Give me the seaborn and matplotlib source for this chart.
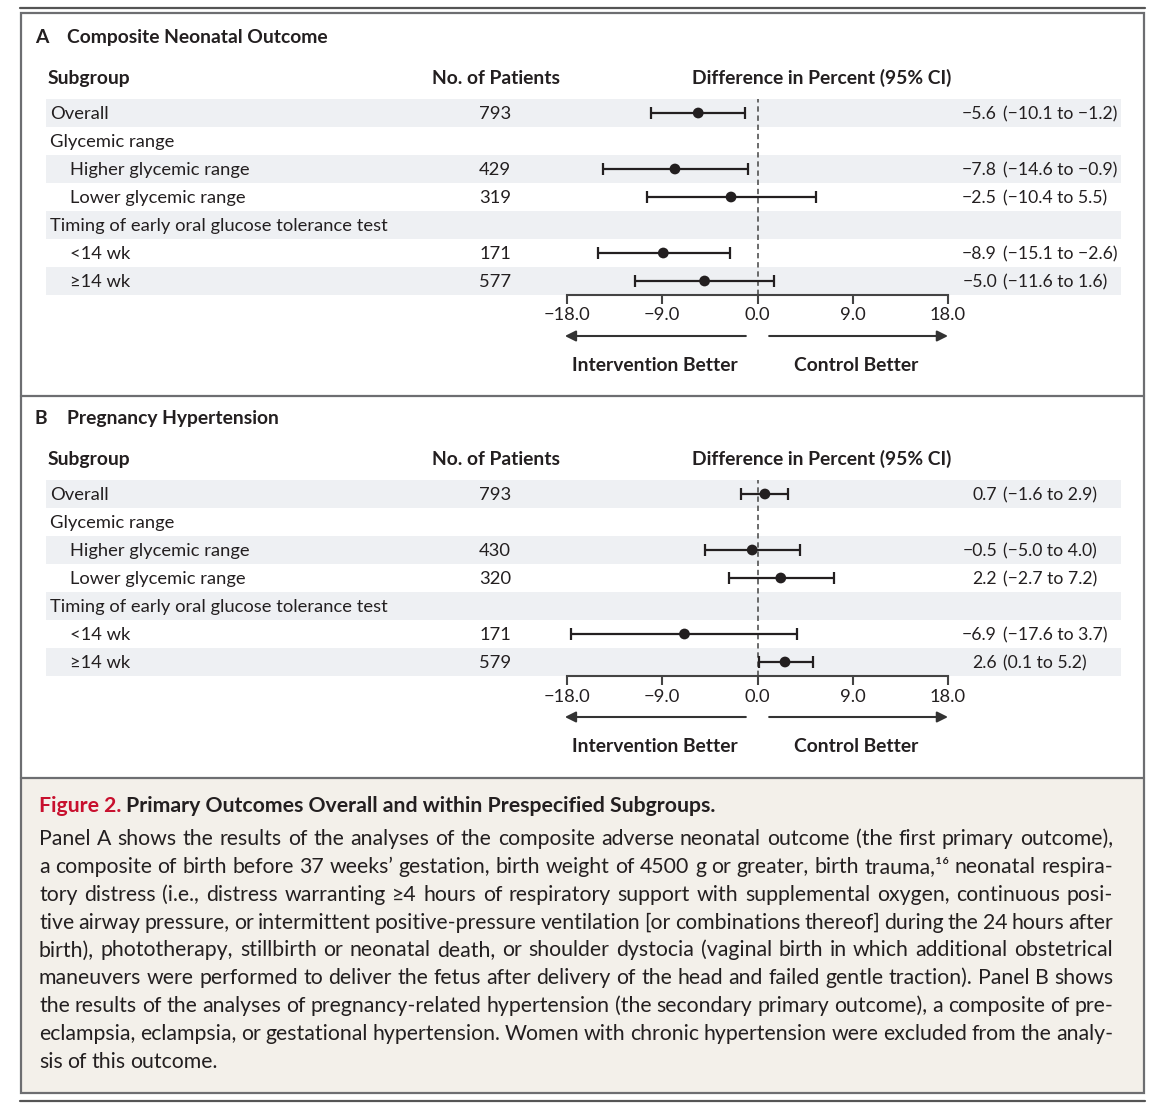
import numpy as np
import matplotlib
matplotlib.use("Agg")
import matplotlib.pyplot as plt
from matplotlib.patches import Rectangle
import seaborn as sns

# ---- data ----
subgroups = ["Overall", "Glycemic range", "Higher glycemic range", "Lower glycemic range",
             "Timing of early oral glucose tolerance test", "<14 wk", "\u226514 wk"]
indent = [0, 0, 1, 1, 0, 1, 1]

n_a = [793, None, 429, 319, None, 171, 577]
est_a = [-5.6, np.nan, -7.8, -2.5, np.nan, -8.9, -5.0]
lo_a = [-10.1, np.nan, -14.6, -10.4, np.nan, -15.1, -11.6]
hi_a = [-1.2, np.nan, -0.9, 5.5, np.nan, -2.6, 1.6]

n_b = [793, None, 430, 320, None, 171, 579]
est_b = [0.7, np.nan, -0.5, 2.2, np.nan, -6.9, 2.6]
lo_b = [-1.6, np.nan, -5.0, -2.7, np.nan, -17.6, 0.1]
hi_b = [2.9, np.nan, 4.0, 7.2, np.nan, 3.7, 5.2]

xticks = [-18.0, -9.0, 0.0, 9.0, 18.0]

caption_title = "Primary Outcomes Overall and within Prespecified Subgroups."
caption_lines = [
    "Panel A shows the results of the analyses of the composite adverse neonatal outcome (the first primary outcome),",
    "a composite of birth before 37 weeks\u2019 gestation, birth weight of 4500 g or greater, birth trauma,\u00b9\u2076 neonatal respira-",
    "tory distress (i.e., distress warranting \u22654 hours of respiratory support with supplemental oxygen, continuous posi-",
    "tive airway pressure, or intermittent positive-pressure ventilation [or combinations thereof] during the 24 hours after",
    "birth), phototherapy, stillbirth or neonatal death, or shoulder dystocia (vaginal birth in which additional obstetrical",
    "maneuvers were performed to deliver the fetus after delivery of the head and failed gentle traction). Panel B shows",
    "the results of the analyses of pregnancy-related hypertension (the secondary primary outcome), a composite of pre-",
    "eclampsia, eclampsia, or gestational hypertension. Women with chronic hypertension were excluded from the analy-",
    "sis of this outcome.",
]

# ---- style ----
sns.set_theme(style="white")
plt.rcParams["font.family"] = ["Lato", "DejaVu Sans"]
INK = "#231f20"
GREY = "#6d6e71"
STRIPE = "#eef0f3"

W, H = 1166, 1107
fig = plt.figure(figsize=(W / 100, H / 100), dpi=100)
bg = fig.add_axes([0, 0, 1, 1])
bg.set_xlim(0, W)
bg.set_ylim(H, 0)
bg.axis("off")

# frame, rules, caption box
bg.add_patch(Rectangle((22, 779), 1121, 313, facecolor="#f3f0ea", edgecolor="none"))
bg.add_patch(Rectangle((21, 13), 1123, 1080, facecolor="none", edgecolor=GREY, lw=1.6))
bg.plot([21, 1144], [396, 396], color=GREY, lw=1.6)
bg.plot([21, 1144], [778, 778], color=GREY, lw=1.6)
bg.plot([20, 1145], [8, 8], color="#555555", lw=1.6)
bg.plot([20, 1145], [1101, 1101], color="#555555", lw=1.6)

fs = 13.2
fs_num = 12.7
fs_head = 13.9
BL = 6  # baseline offset from row centre, px


def fmt(v):
    return f"{v:.1f}".replace("-", "\u2212")


def txt(x, y, s, size=fs, bold=False, **kw):
    return bg.text(x, y + BL, s, fontsize=size, fontweight="bold" if bold else "normal",
                   color=kw.pop("color", INK), va="baseline", **kw)


def panel(off, letter, title, n, est, lo, hi):
    txt(35, 37 + off, letter, fs_head, True)
    txt(67, 37 + off, title, fs_head, True)
    hy = 78 + off
    txt(48, hy, "Subgroup", fs_head, True)
    txt(432, hy, "No. of Patients", fs_head, True)
    txt(692, hy, "Difference in Percent (95% CI)", fs_head, True)

    for i, name in enumerate(subgroups):
        y = 113 + off + 28 * i
        if i % 2 == 0:
            bg.add_patch(Rectangle((46, y - 14), 1075, 28, facecolor=STRIPE, edgecolor="none"))
        txt(50 + 20 * indent[i], y, name)
        if n[i] is not None:
            txt(495, y, str(n[i]), ha="center")
        if not np.isnan(est[i]):
            txt(997, y, fmt(est[i]), fs_num, ha="right")
            txt(1003, y, f"({fmt(lo[i])} to {fmt(hi[i])})", fs_num, ha="left")

    # forest axes: x -18..18 -> px 567..948, rows 99..295
    top, bot = 99 + off, 295 + off
    ax = fig.add_axes([567 / W, 1 - bot / H, (948 - 567) / W, (bot - top) / H])
    ax.patch.set_visible(False)
    rows = np.arange(len(subgroups))
    e = np.array(est)
    l = np.array(lo)
    h = np.array(hi)
    ok = ~np.isnan(e)
    ax.axvline(0, color="#444444", lw=1.1, ls=(0, (3.5, 2.5)), zorder=1)
    ax.errorbar(e[ok], rows[ok], xerr=[e[ok] - l[ok], h[ok] - e[ok]], fmt="none",
                ecolor=INK, elinewidth=1.6, capsize=4.6, capthick=1.6, zorder=2)
    sns.scatterplot(x=e[ok], y=rows[ok], ax=ax, color=INK, s=60, edgecolor="none",
                    zorder=3, legend=False)
    ax.set_xlim(-18, 18)
    ax.set_ylim(len(subgroups) - 0.5, -0.5)
    ax.set_yticks([])
    ax.set_xticks(xticks)
    ax.set_xticklabels([fmt(t) for t in xticks], fontsize=fs, color=INK)
    for s in ["top", "left", "right"]:
        ax.spines[s].set_visible(False)
    ax.spines["bottom"].set_color("#444444")
    ax.spines["bottom"].set_linewidth(1.5)
    ax.tick_params(axis="x", direction="out", length=6.5, width=1.5, color="#444444", pad=2.5,
                   bottom=True)

    # direction arrows below the axis
    tr = ax.get_xaxis_transform()
    ay = -(336 + off - bot) / (bot - top)
    for tip, tail in [(-18.2, -1.1), (18.0, 1.1)]:
        ax.annotate("", xy=(tip, ay), xytext=(tail, ay), xycoords=tr, textcoords=tr,
                    arrowprops=dict(arrowstyle="-|>", color="#333333", lw=1.5, mutation_scale=16,
                                    shrinkA=0, shrinkB=0), annotation_clip=False)
    txt(655, 365 + off, "Intervention Better", fs_head, True, ha="center")
    txt(856, 365 + off, "Control Better", fs_head, True, ha="center")


panel(0, "A", "Composite Neonatal Outcome", n_a, est_a, lo_a, hi_a)
panel(381, "B", "Pregnancy Hypertension", n_b, est_b, lo_b, hi_b)

# caption (justified, word by word)
fs_cap = 15.3
renderer = fig.canvas.get_renderer()
t1 = txt(39, 806, "Figure 2.", fs_cap, True, color="#c8102e")
w1 = t1.get_window_extent(renderer).width
txt(39 + w1 + 5, 806, caption_title, fs_cap, True)

x0, x1 = 39, 1113
for k, line in enumerate(caption_lines):
    y = 839 + 27.85 * k
    words = line.split(" ")
    texts = [txt(0, y, w, fs_cap) for w in words]
    widths = [t.get_window_extent(renderer).width for t in texts]
    if k < len(caption_lines) - 1:
        gap = (x1 - x0 - sum(widths)) / (len(words) - 1)
    else:
        gap = 4.5
    x = x0
    for t, w in zip(texts, widths):
        t.set_x(x)
        x += w + gap

fig.savefig("out.png", dpi=100)
